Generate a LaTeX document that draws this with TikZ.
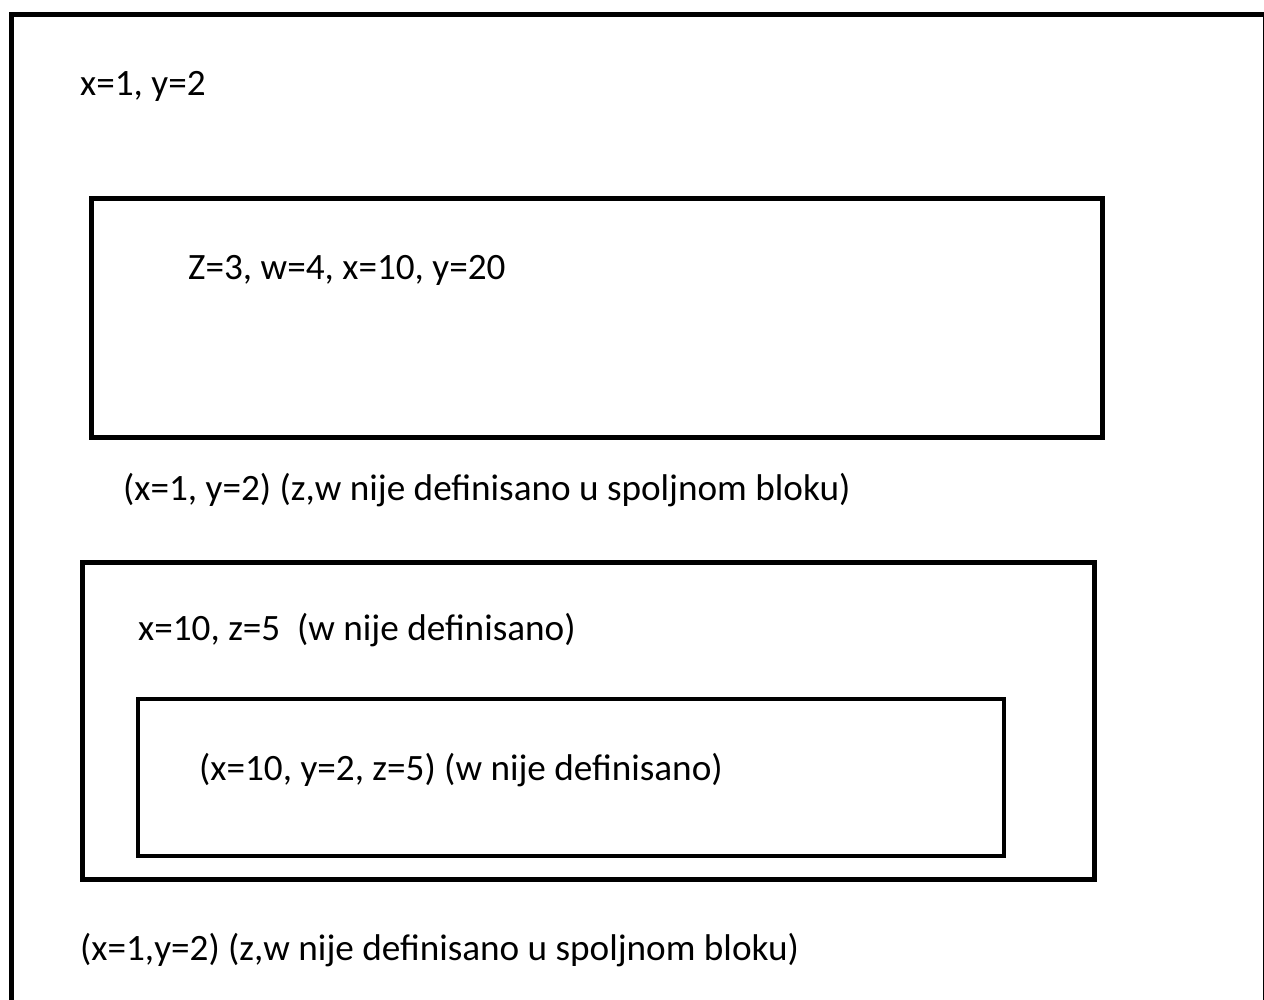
\documentclass[tikz,border=0pt]{standalone}
\usepackage{fontspec}
\setmainfont{Carlito}

\tikzset{
  blok/.style={line width=5pt},
  tekst/.style={anchor=base west, inner sep=0pt, font=\fontsize{37.2}{44}\selectfont}
}

\begin{document}
\begin{tikzpicture}[x=1pt, y=-1pt]

    \useasboundingbox (0,0) rectangle (1264,999);
    \clip (0,0) rectangle (1264,999);

    % spoljni blok
    \draw[blok] (11,1020) -- (11,14) -- (1265,14) -- (1265,1020);
    \node[tekst] (spolja) at (80,95) {x=1, y=2};

    % prvi unutrasnji blok
    \draw[blok] (91,198) rectangle (1102,437);
    \node[tekst] (prvi) at (188,279) {Z=3, w=4, x=10, y=20};
    \node[tekst] (posle1) at (123,500) {(x=1, y=2) (z,w nije definisano u spoljnom bloku)};

    % drugi blok sa ugnjezdenim
    \draw[blok] (82,562) rectangle (1094,879);
    \node[tekst] (drugi) at (138,640) {x=10, z=5\ \ (w nije definisano)};
    \draw[blok, line width=4.5pt] (138,699) rectangle (1004,856);
    \node[tekst] (treci) at (199,780) {(x=10, y=2, z=5) (w nije definisano)};

    \node[tekst] (posle2) at (80,960) {(x=1,y=2) (z,w nije definisano u spoljnom bloku)};

\end{tikzpicture}
\end{document}
